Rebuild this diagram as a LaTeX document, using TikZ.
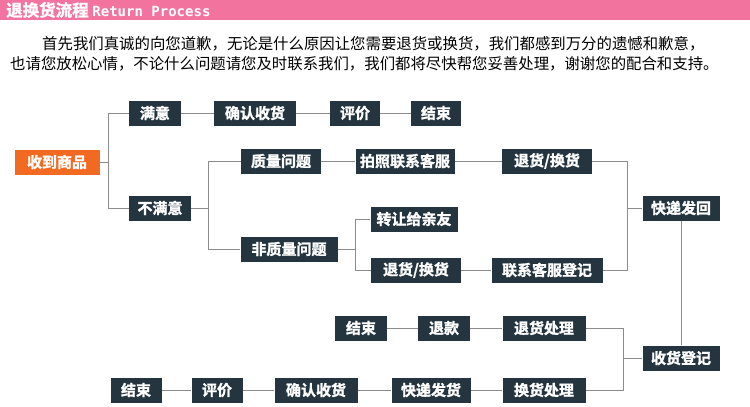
\documentclass[tikz,border=0pt]{standalone}
\usepackage{fontspec}
\setmainfont{Noto Sans CJK SC}
\newfontfamily\cjk{Noto Sans CJK SC}
\newfontfamily\cjkb{Noto Sans CJK SC Bold}[FakeBold=1.5]
\setmonofont{DejaVu Sans Mono}
\definecolor{hdr}{HTML}{F2739E}
\definecolor{box}{HTML}{253540}
\definecolor{org}{HTML}{F26A22}
\definecolor{ln}{HTML}{8C8C8C}
\tikzset{nb/.style={fill=box,text=white,font=\cjkb\fontsize{15}{15}\selectfont,minimum height=25pt,inner sep=0pt},
 ln/.style={draw=ln,line width=1pt}}
\begin{document}
\begin{tikzpicture}[x=1pt,y=-1pt]
\useasboundingbox (0,0) rectangle (750,407);
\fill[hdr] (0,0) rectangle (750,20);
\node[anchor=west,text=white,inner sep=0] at (6,10) {\cjkb\fontsize{16.5}{16.5}\selectfont 退换货流程 \ttfamily\bfseries\fontsize{14}{14}\selectfont Return Process};
\node[anchor=west,inner sep=0] at (42,44) {\cjk\fontsize{15.4}{15}\selectfont 首先我们真诚的向您道歉，无论是什么原因让您需要退货或换货，我们都感到万分的遗憾和歉意，};
\node[anchor=west,inner sep=0] at (10,64) {\cjk\fontsize{15.4}{15}\selectfont 也请您放松心情，不论什么问题请您及时联系我们，我们都将尽快帮您妥善处理，谢谢您的配合和支持。};
\node[nb,fill=org,minimum width=85pt] (recv) at (57,162) {收到商品};
\node[nb,minimum width=52pt] (my) at (155,113) {满意};
\node[nb,minimum width=82pt] (qr1) at (255,113) {确认收货};
\node[nb,minimum width=50pt] (pj1) at (355,113) {评价};
\node[nb,minimum width=50pt] (js1) at (436,113) {结束};
\node[nb,minimum width=62pt] (bmy) at (160,208) {不满意};
\node[nb,minimum width=80pt] (zl) at (281,161) {质量问题};
\node[nb,minimum width=99pt] (pz) at (405,161) {拍照联系客服};
\node[nb,minimum width=90pt] (th1) at (547,161) {退货/换货};
\node[nb,minimum width=97pt] (fzl) at (289,249) {非质量问题};
\node[nb,minimum width=87pt] (zr) at (414,219) {转让给亲友};
\node[nb,minimum width=90pt] (th2) at (416,270) {退货/换货};
\node[nb,minimum width=111pt] (lx) at (547,270) {联系客服登记};
\node[nb,minimum width=77pt] (kd) at (681,208) {快递发回};
\node[nb,minimum width=52pt] (js2) at (361,328) {结束};
\node[nb,minimum width=52pt] (tk) at (444,328) {退款};
\node[nb,minimum width=83pt] (thcl) at (544,328) {退货处理};
\node[nb,minimum width=77pt] (shdj) at (681,358) {收货登记};
\node[nb,minimum width=51pt] (js3) at (136,390) {结束};
\node[nb,minimum width=51pt] (pj3) at (217,390) {评价};
\node[nb,minimum width=83pt] (qr3) at (316,390) {确认收货};
\node[nb,minimum width=79pt] (kdfh) at (431,390) {快递发货};
\node[nb,minimum width=83pt] (hhcl) at (544,390) {换货处理};
\draw[ln] (recv.east) -- (108,162);
\draw[ln] (my.west) -| (108,208) -- (bmy.west);
\draw[ln] (my) -- (qr1) (qr1) -- (pj1) (pj1) -- (js1);
\draw[ln] (bmy.east) -- (208,208);
\draw[ln] (zl.west) -| (208,249) -- (fzl.west);
\draw[ln] (zl) -- (pz) (pz) -- (th1);
\draw[ln] (th1.east) -| (627,270) -- (lx.east);
\draw[ln] (627,208) -- (kd.west);
\draw[ln] (fzl.east) -- (355,249);
\draw[ln] (zr.west) -| (355,270) -- (th2.west);
\draw[ln] (th2) -- (lx);
\draw[ln] (kd) -- (shdj);
\draw[ln] (shdj.west) -- (623,358);
\draw[ln] (thcl.east) -| (623,390) -- (hhcl.east);
\draw[ln] (js2) -- (tk) (tk) -- (thcl);
\draw[ln] (js3) -- (pj3) (pj3) -- (qr3) (qr3) -- (kdfh) (kdfh) -- (hhcl);
\end{tikzpicture}
\end{document}
